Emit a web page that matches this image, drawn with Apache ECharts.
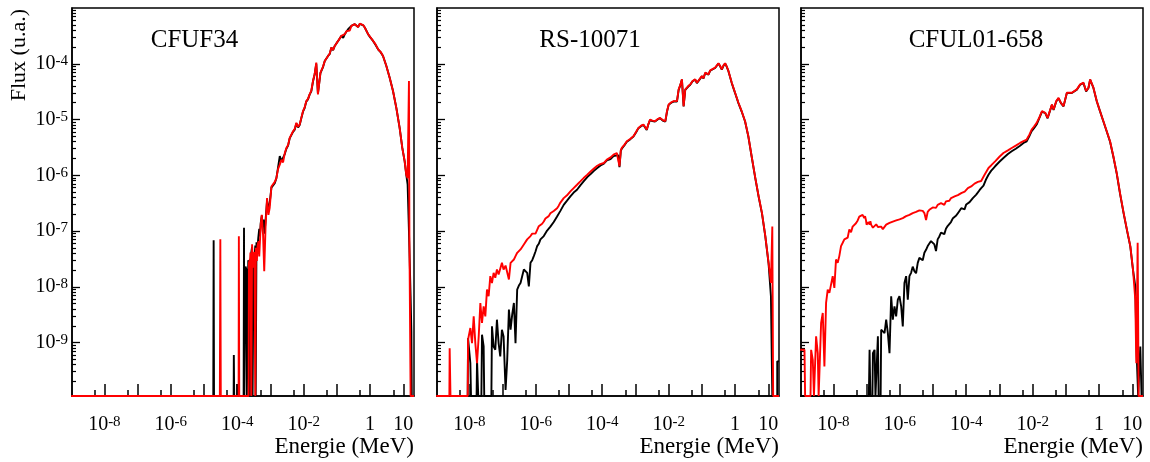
<!DOCTYPE html>
<html><head><meta charset="utf-8">
<script src="https://cdn.jsdelivr.net/npm/echarts@6/dist/echarts.min.js"></script>
<style>html,body{margin:0;padding:0;background:#fff}#c{width:1150px;height:462px}</style>
</head><body><div id="c"></div>
<script>
// ---------- data (energy in MeV, flux in u.a.; 0 = empty bin) ----------
const panelTitles = ['CFUF34', 'RS-10071', 'CFUL01-658'];
const xTitle = 'Energie (MeV)';
const yTitle = 'Flux (u.a.)';
const xMajorTicks = [1e-8, 1e-7, 1e-6, 1e-5, 1e-4, 1e-3, 1e-2, 1e-1, 1, 10];
const xMinorTicks = [5e-9, 5e-8, 5e-7, 5e-6, 5e-5, 5e-4, 5e-3, 5e-2, 5e-1, 5];
const xLabelValues = [1e-8, 1e-6, 1e-4, 1e-2, 1, 10];
const yMajorTicks = [1e-9, 1e-8, 1e-7, 1e-6, 1e-5, 1e-4];
const yLabelValues = [1e-9, 1e-8, 1e-7, 1e-6, 1e-5, 1e-4];

const cfuf34Black = [[1e-9,0],[1.9e-5,0],[1.95e-5,6.8e-8],[2.0e-5,0],[7.8e-5,0],[7.9e-5,6e-10],[8.1e-5,0],
 [1.0e-4,0],[1.01e-4,1.8e-10],[1.03e-4,0],[1.56e-4,0],[1.6e-4,1.15e-7],[1.63e-4,0],
 [1.75e-4,0],[1.78e-4,2.3e-8],[1.9e-4,2.0e-8],[1.95e-4,0],[2.1e-4,0],[2.15e-4,3.0e-8],[2.3e-4,2.5e-8],[2.4e-4,0],
 [2.55e-4,0],[2.6e-4,3.8e-8],[2.8e-4,5.2e-8],[2.9e-4,0],[3.05e-4,0],[3.1e-4,4.0e-8],[3.3e-4,3.2e-8],[3.5e-4,5.5e-8],[3.6e-4,0],
 [3.75e-4,0],[3.8e-4,6.3e-8],[4.0e-4,4.5e-8],[4.3e-4,7.5e-8],[4.6e-4,1.1e-7],[4.8e-4,8e-8],[5.1e-4,1.4e-7],[5.5e-4,1.9e-7],
 [5.8e-4,1.3e-7],[6.2e-4,1.6e-7],[6.6e-4,9e-8],[7.1e-4,1.5e-7],[7.9e-4,3.5e-7],[8.7e-4,2.4e-7],[9.5e-4,3.2e-7],[1.07e-3,6.0e-7],
 [1.2e-3,5.6e-7],[1.35e-3,7.2e-7],[1.51e-3,8.9e-7],[1.7e-3,1.4e-6],[1.91e-3,2.2e-6],[2.15e-3,1.8e-6],[2.4e-3,1.7e-6],
 [2.7e-3,2.4e-6],[3.02e-3,3.0e-6],[3.4e-3,3.4e-6],[3.8e-3,4.6e-6],[4.3e-3,4.9e-6],[4.79e-3,6.0e-6],[5.4e-3,6.6e-6],
 [6.03e-3,8.5e-6],[6.8e-3,7.2e-6],[7.59e-3,8.0e-6],[8.5e-3,1.05e-5],[9.55e-3,1.38e-5],[1.07e-2,1.6e-5],[1.2e-2,2.1e-5],
 [1.35e-2,2.3e-5],[1.51e-2,2.8e-5],[1.7e-2,3.2e-5],[1.91e-2,4.8e-5],[2.15e-2,6.5e-5],[2.4e-2,1.0e-4],[2.69e-2,2.9e-5],
 [3.2e-2,6.8e-5],[3.8e-2,8.6e-5],[4.32e-2,1.12e-4],[4.8e-2,1.05e-4],[5.43e-2,1.38e-4],[6.1e-2,1.5e-4],[6.84e-2,1.95e-4],
 [7.7e-2,1.75e-4],[8.63e-2,2.09e-4],[9.7e-2,2.2e-4],[0.109,2.57e-4],[0.122,2.4e-4],[0.137,3.16e-4],[0.155,2.9e-4],
 [0.173,3.39e-4],[0.195,3.8e-4],[0.218,4.17e-4],[0.245,3.9e-4],[0.274,4.79e-4],[0.31,4.5e-4],
 [0.346,5.13e-4],[0.39,4.8e-4],[0.436,4.57e-4],[0.49,5.2e-4],[0.55,5.13e-4],[0.62,4.9e-4],[0.692,4.47e-4],[0.871,3.39e-4],
 [1.0,3.0e-4],[1.23,2.57e-4],[1.45,2.2e-4],[1.74,1.82e-4],[2.1,1.6e-4],[2.45,1.38e-4],
 [3.09,9.12e-5],[3.89,5.62e-5],[4.9,3.24e-5],[6.17,1.62e-5],[7.76,7.08e-6],[9.33,3.09e-6],[11.0,1.78e-6],[12.3,1.02e-6],
 [13.5,6.8e-7],[14.8,6.8e-7],[14.8,1.0e-7],[16.0,1.0e-7],[16.6,6.8e-9],[17.5,1.6e-9],[18.0,0],[21,0]];

const cfuf34Red = [[1e-9,0],[3.0e-5,0],[3.1e-5,7.1e-8],[3.2e-5,0],[1.1e-4,0],[1.12e-4,8.1e-8],[1.15e-4,0],
 [2.2e-4,0],[2.25e-4,2.7e-8],[2.45e-4,3.2e-8],[2.5e-4,4.1e-8],[2.65e-4,0],[2.8e-4,5.8e-8],[2.95e-4,2.2e-8],[3.1e-4,3.8e-8],
 [3.3e-4,4.2e-8],[3.5e-4,0],[3.65e-4,5.0e-8],[3.9e-4,2.9e-8],[4.1e-4,5.5e-8],[4.4e-4,6.6e-8],[4.6e-4,3.5e-8],[4.8e-4,3.8e-8],
 [5.1e-4,1.3e-7],[5.5e-4,1.95e-7],[6.0e-4,8.5e-8],[6.5e-4,1.9e-8],[7.1e-4,1.12e-7],[7.9e-4,3.9e-7],[8.7e-4,1.95e-7],
 [9.5e-4,2.6e-7],[1.07e-3,6.3e-7],[1.2e-3,5.9e-7],[1.35e-3,7.6e-7],[1.51e-3,8.9e-7],[1.7e-3,1.3e-6],[1.91e-3,1.55e-6],
 [2.15e-3,1.9e-6],[2.4e-3,1.7e-6],[2.7e-3,2.5e-6],[3.02e-3,3.09e-6],[3.4e-3,3.5e-6],[3.8e-3,4.68e-6],[4.3e-3,5.0e-6],
 [4.79e-3,6.17e-6],[5.4e-3,6.8e-6],[6.03e-3,8.71e-6],[6.8e-3,7.4e-6],[7.59e-3,8.13e-6],[8.5e-3,1.07e-5],
 [9.55e-3,1.41e-5],[1.07e-2,1.65e-5],[1.2e-2,2.14e-5],[1.35e-2,2.35e-5],[1.51e-2,2.82e-5],[1.7e-2,3.3e-5],[1.91e-2,4.9e-5],
 [2.15e-2,6.6e-5],[2.4e-2,1.05e-4],[2.69e-2,2.82e-5],[3.2e-2,6.92e-5],[3.8e-2,8.8e-5],
 [4.32e-2,1.12e-4],[4.8e-2,1.07e-4],[5.43e-2,1.38e-4],[6.1e-2,1.52e-4],[6.84e-2,1.95e-4],[7.7e-2,1.78e-4],[8.63e-2,2.09e-4],
 [9.7e-2,2.25e-4],[0.109,2.57e-4],[0.122,2.45e-4],[0.137,3.16e-4],[0.155,2.95e-4],[0.173,3.39e-4],[0.195,3.85e-4],
 [0.218,4.17e-4],[0.245,3.95e-4],[0.274,4.79e-4],[0.31,4.55e-4],[0.346,5.13e-4],[0.39,4.85e-4],[0.436,4.57e-4],
 [0.49,5.25e-4],[0.55,5.13e-4],[0.62,4.95e-4],[0.692,4.47e-4],[0.871,3.39e-4],[1.0,3.05e-4],
 [1.23,2.57e-4],[1.45,2.25e-4],[1.74,1.82e-4],[2.1,1.62e-4],[2.45,1.38e-4],[3.09,9.12e-5],[3.89,5.62e-5],[4.9,3.24e-5],
 [6.17,1.62e-5],[7.76,7.08e-6],[9.33,3.09e-6],[11.0,1.78e-6],[12.3,1.02e-6],[13.5,8.9e-7],[14.8,8.9e-7],[14.8,4.9e-5],
 [15.3,4.9e-5],[15.3,6.6e-8],[16.6,6.6e-8],[16.6,0],[21,0]];

const rs10071Black = [[1e-9,0],[8.9e-9,0],[9.12e-9,1.2e-9],[1.07e-8,4.27e-10],[1.12e-8,0],[1.65e-8,0],[1.7e-8,4.9e-10],
 [1.85e-8,0],[2.3e-8,0],[2.4e-8,1.38e-9],[2.69e-8,8.51e-10],[2.8e-8,0],[4.6e-8,0],[4.79e-8,1.95e-9],[5.37e-8,8.51e-10],
 [6.03e-8,7.41e-10],[6.76e-8,2.57e-9],[7.59e-8,9.77e-10],[8.51e-8,5.62e-10],[9.55e-8,1.7e-9],[1.07e-7,1.29e-9],
 [1.23e-7,1.41e-10],[1.38e-7,4.9e-10],[1.55e-7,3.89e-9],[1.74e-7,1.7e-9],[1.95e-7,3.2e-9],[2.19e-7,5.13e-9],
 [2.45e-7,9.77e-10],[2.75e-7,8.91e-9],[3.09e-7,1.05e-8],[3.47e-7,1.17e-8],[3.89e-7,1.55e-8],[4.37e-7,2.04e-8],
 [4.9e-7,1.9e-8],[5.5e-7,1.78e-8],[6.17e-7,1.02e-8],[6.92e-7,2.69e-8],[7.8e-7,3.0e-8],[8.71e-7,3.55e-8],
 [9.8e-7,4.3e-8],[1.1e-6,5.37e-8],[1.23e-6,5.9e-8],[1.38e-6,7.08e-8],[1.55e-6,7.4e-8],[1.74e-6,8.13e-8],[2.19e-6,1.02e-7],
 [2.75e-6,1.2e-7],[3.47e-6,1.45e-7],[4.37e-6,1.82e-7],[5.5e-6,2.3e-7],[6.92e-6,2.95e-7],[8.71e-6,3.5e-7],[1.1e-5,4.17e-7],
 [1.38e-5,4.9e-7],[1.74e-5,5.5e-7],[2.19e-5,6.6e-7],[2.75e-5,7.76e-7],[3.55e-5,9.3e-7],[4.47e-5,1.05e-6],[5.62e-5,1.2e-6],
 [7.08e-5,1.35e-6],[8.9e-5,1.5e-6],
 [1.12e-4,1.62e-6],[1.38e-4,1.85e-6],[1.78e-4,1.95e-6],[2.19e-4,2.2e-6],[2.51e-4,2.24e-6],[3.02e-4,2.3e-6],[3.31e-4,1.4e-6],[3.63e-4,2.75e-6],
 [3.89e-4,3.0e-6],[4.68e-4,3.45e-6],[5.5e-4,3.98e-6],[6.92e-4,4.4e-6],[8.71e-4,4.95e-6],[1.05e-3,5.9e-6],[1.23e-3,7.0e-6],
 [1.48e-3,7.6e-6],[1.74e-3,8.0e-6],[2.19e-3,6.5e-6],[2.45e-3,8.2e-6],[2.75e-3,9.8e-6],[3.24e-3,9.4e-6],[3.89e-3,9.2e-6],
 [4.68e-3,1.0e-5],[5.5e-3,1.06e-5],[6.61e-3,9.6e-6],[7.94e-3,9.2e-6],[8.91e-3,1.38e-5],[1.0e-2,1.83e-5],[1.2e-2,2.0e-5],
 [1.41e-2,2.1e-5],[1.78e-2,2.1e-5],[2.0e-2,3.4e-5],[2.24e-2,4.1e-5],[2.51e-2,5.2e-5],[2.82e-2,1.72e-5],[3.16e-2,3.4e-5],
 [3.39e-2,3.65e-5],[3.89e-2,3.9e-5],[4.47e-2,4.2e-5],[5.25e-2,4.85e-5],[6.31e-2,5.2e-5],[7.08e-2,4.5e-5],[7.94e-2,4.85e-5],
 [0.1,5.95e-5],[0.112,5.45e-5],[0.126,6.85e-5],[0.158,6.4e-5],[0.178,7.5e-5],[0.2,7.85e-5],[0.251,8.4e-5],[0.282,8.8e-5],
 [0.316,1.01e-4],[0.355,9.0e-5],[0.398,7.85e-5],[0.447,9.2e-5],[0.501,1.01e-4],[0.562,8.8e-5],[0.631,7.35e-5],[0.794,4.5e-5],
 [1.0,2.98e-5],[1.26,1.97e-5],[1.58,1.39e-5],[2.0,9.2e-6],[2.51,4.95e-6],[3.16,2.15e-6],[4.07,8.8e-7],[5.13,4.1e-7],
 [6.46,2.05e-7],[8.13,8.0e-8],[10.2,2.6e-8],[12.0,6.76e-9],[13.2,6.76e-9],[13.2,0],[18.6,0],[18.6,4.6e-10],[21,4.6e-10]];

const rs10071Red = [[1e-9,0],[2.5e-9,0],[2.55e-9,7.9e-10],[2.7e-9,0],[8.9e-9,0],[9.12e-9,1.12e-9],[1.07e-8,1.82e-9],
 [1.2e-8,9.77e-10],[1.35e-8,2.95e-9],[1.51e-8,9.77e-10],[1.7e-8,4.27e-10],[1.91e-8,1.29e-9],[2.14e-8,5.13e-9],
 [2.4e-8,2.24e-9],[2.69e-8,4.47e-9],[3.02e-8,2.95e-9],[3.39e-8,8.91e-9],[3.8e-8,6.76e-9],[4.27e-8,1.55e-8],
 [4.79e-8,1.17e-8],[5.37e-8,1.78e-8],[6.03e-8,1.45e-8],[6.76e-8,2.04e-8],[7.59e-8,1.66e-8],[8.51e-8,1.55e-8],
 [9.55e-8,2.69e-8],[1.07e-7,2.04e-8],[1.23e-7,2.4e-8],[1.38e-7,2.51e-8],[1.55e-7,1.35e-8],[1.74e-7,2.69e-8],
 [1.95e-7,2.82e-8],[2.19e-7,3.09e-8],[2.45e-7,3.55e-8],[2.75e-7,4.07e-8],[3.09e-7,3.89e-8],[3.47e-7,4.68e-8],
 [3.89e-7,5.01e-8],[4.37e-7,5.75e-8],[4.9e-7,6.03e-8],[5.5e-7,7.08e-8],[6.2e-7,6.6e-8],[6.92e-7,8.13e-8],[7.8e-7,9.0e-8],
 [8.71e-7,9.33e-8],[9.8e-7,9.0e-8],[1.1e-6,1.05e-7],[1.23e-6,1.22e-7],[1.38e-6,1.26e-7],[1.55e-6,1.35e-7],[1.74e-6,1.48e-7],
 [1.95e-6,1.68e-7],[2.19e-6,1.74e-7],[2.45e-6,1.85e-7],[2.75e-6,2.09e-7],[3.09e-6,2.2e-7],[3.47e-6,2.29e-7],[3.89e-6,2.4e-7],
 [4.37e-6,2.57e-7],[4.9e-6,2.85e-7],[5.5e-6,3.24e-7],[6.17e-6,3.4e-7],[6.92e-6,3.89e-7],[7.76e-6,4.2e-7],[8.71e-6,4.37e-7],
 [9.8e-6,4.6e-7],[1.1e-5,5.13e-7],[1.23e-5,5.5e-7],[1.38e-5,5.89e-7],[1.55e-5,6.1e-7],
 [1.74e-5,6.76e-7],[2.19e-5,7.76e-7],[2.75e-5,8.91e-7],[3.55e-5,1.02e-6],[4.47e-5,1.17e-6],[5.62e-5,1.32e-6],
 [7.08e-5,1.48e-6],[8.71e-5,1.58e-6],[1.12e-4,1.66e-6],[1.38e-4,1.91e-6],[1.78e-4,2.09e-6],[2.19e-4,2.34e-6],
 [2.75e-4,2.51e-6],[3.02e-4,2.4e-6],[3.31e-4,1.45e-6],[3.63e-4,2.82e-6],[3.89e-4,3.09e-6],[4.68e-4,3.55e-6],
 [5.5e-4,4.07e-6],[6.92e-4,4.47e-6],[8.71e-4,5.01e-6],[1.05e-3,6.03e-6],[1.23e-3,7.08e-6],[1.48e-3,7.76e-6],
 [1.74e-3,8.13e-6],[2.19e-3,6.61e-6],[2.45e-3,8.32e-6],[2.75e-3,1.0e-5],[3.24e-3,9.55e-6],[3.89e-3,9.33e-6],
 [4.68e-3,1.02e-5],[5.5e-3,1.07e-5],[6.61e-3,9.77e-6],[7.94e-3,9.33e-6],[8.91e-3,1.41e-5],[1.0e-2,1.86e-5],
 [1.2e-2,2.04e-5],[1.41e-2,2.14e-5],[1.78e-2,2.14e-5],[2.0e-2,3.47e-5],[2.24e-2,4.17e-5],[2.51e-2,5.25e-5],
 [2.82e-2,1.74e-5],[3.16e-2,3.47e-5],[3.39e-2,3.72e-5],[3.89e-2,3.98e-5],[4.47e-2,4.27e-5],[5.25e-2,4.9e-5],
 [6.31e-2,5.25e-5],[7.08e-2,4.57e-5],[7.94e-2,4.9e-5],[0.1,6.03e-5],[0.112,5.5e-5],[0.126,6.92e-5],[0.158,6.46e-5],
 [0.178,7.59e-5],[0.2,7.94e-5],[0.251,8.51e-5],[0.282,8.91e-5],[0.316,1.02e-4],[0.355,9.12e-5],[0.398,7.94e-5],
 [0.447,9.33e-5],[0.501,1.02e-4],[0.562,8.91e-5],[0.631,7.41e-5],[0.794,4.57e-5],[1.0,3.02e-5],[1.26,2.0e-5],
 [1.58,1.41e-5],[2.0,9.33e-6],[2.51,5.01e-6],[3.16,2.19e-6],[4.07,8.91e-7],[5.13,4.17e-7],[6.46,2.09e-7],[8.13,8.13e-8],
 [10.2,2.69e-8],[12.0,1.17e-8],[13.2,1.17e-8],[13.2,1.2e-7],[14.0,1.2e-7],[14.0,0],[21,0]];

const cful01Black = [[1e-9,0],[1.17e-7,0],[1.23e-7,7.41e-10],[1.3e-7,0],[1.5e-7,0],[1.55e-7,6.46e-10],[1.74e-7,7.41e-10],
 [1.85e-7,0],[2.1e-7,0],[2.19e-7,1.29e-9],[2.3e-7,0],[2.65e-7,0],[2.75e-7,1.7e-9],[3.09e-7,1.82e-9],[3.47e-7,1.48e-9],
 [3.89e-7,2.57e-9],[4.37e-7,1.48e-9],[4.9e-7,6.46e-10],[5.5e-7,6.76e-9],[6.17e-7,2.57e-9],[6.92e-7,4.47e-9],
 [7.76e-7,2.95e-9],[8.71e-7,5.89e-9],[9.77e-7,6.76e-9],[1.1e-6,4.47e-9],[1.23e-6,1.95e-9],[1.38e-6,1.17e-8],
 [1.55e-6,1.55e-8],[1.74e-6,5.89e-9],[1.95e-6,1.55e-8],[2.19e-6,1.78e-8],[2.45e-6,2.3e-8],[2.75e-6,1.91e-8],
 [3.09e-6,1.75e-8],[3.47e-6,2.69e-8],[3.89e-6,3.3e-8],[4.37e-6,3.09e-8],[4.9e-6,3.0e-8],[5.5e-6,4.07e-8],[6.17e-6,4.6e-8],
 [6.92e-6,5.37e-8],[7.76e-6,5.0e-8],[8.71e-6,6.61e-8],[9.8e-6,6.9e-8],[1.1e-5,5.75e-8],[1.23e-5,4.37e-8],
 [1.38e-5,7.08e-8],[1.55e-5,8.0e-8],[1.74e-5,9.33e-8],[1.95e-5,9.8e-8],[2.19e-5,8.8e-8],[2.45e-5,1.1e-7],[2.75e-5,1.23e-7],
 [3.09e-5,1.18e-7],[3.47e-5,1.45e-7],[3.98e-5,1.7e-7],[4.47e-5,1.6e-7],[5.0e-5,1.9e-7],[5.62e-5,2.09e-7],[6.3e-5,2.0e-7],
 [7.08e-5,2.57e-7],[8.0e-5,2.55e-7],[8.9e-5,2.45e-7],[1.0e-4,3.0e-7],[1.12e-4,3.16e-7],[1.26e-4,3.3e-7],[1.41e-4,3.5e-7],
 [1.58e-4,3.9e-7],[1.78e-4,4.17e-7],[2.0e-4,4.5e-7],[2.24e-4,4.8e-7],[2.51e-4,5.4e-7],[2.82e-4,5.89e-7],[3.31e-4,6.5e-7],
 [3.9e-4,8.3e-7],[4.68e-4,1.02e-6],[5.6e-4,1.2e-6],[7.41e-4,1.45e-6],[1.0e-3,1.75e-6],
 [1.32e-3,2.04e-6],[1.8e-3,2.4e-6],[2.34e-3,2.69e-6],[3.1e-3,3.0e-6],[4.17e-3,3.39e-6],[5.3e-3,3.8e-6],[6.61e-3,4.07e-6],
 [7.9e-3,5.0e-6],[9.33e-3,6.17e-6],[1.1e-2,7.0e-6],[1.32e-2,8.13e-6],
 [1.91e-2,1.38e-5],[2.4e-2,1.3e-5],[2.82e-2,1.05e-5],[3.8e-2,1.83e-5],[4.27e-2,1.49e-5],[5.13e-2,2.1e-5],[6.03e-2,2.4e-5],
 [7.08e-2,1.97e-5],[8.51e-2,1.72e-5],[0.107,2.98e-5],[0.151,2.98e-5],[0.214,3.42e-5],[0.269,4.2e-5],[0.339,4.5e-5],
 [0.407,3.2e-5],[0.479,3.68e-5],[0.537,5.2e-5],[0.676,3.68e-5],[0.851,2.12e-5],[1.07,1.4e-5],[1.35,9.2e-6],[1.7,6.1e-6],
 [2.14,4.0e-6],[2.69,2.15e-6],[3.39,1.08e-6],[4.27,4.7e-7],[5.5,2.05e-7],[6.92,1.03e-7],[8.71,5.3e-8],[10.5,2.0e-8],
 [12.3,1.02e-8],[13.5,6.46e-10],[15.0,0],[16.5,0],[17.4,8.51e-10],[19.0,8.51e-10],[19.0,0],[21,0]];

const cful01Red = [[1e-9,7.41e-10],[1.35e-9,7.41e-10],[1.41e-9,0],[2.05e-9,0],[2.14e-9,7.41e-10],[2.4e-9,4.9e-10],
 [2.6e-9,0],[2.95e-9,0],[3.02e-9,1.29e-9],[3.39e-9,6.46e-10],[3.6e-9,0],[4.1e-9,0],[4.27e-9,2.24e-9],[4.79e-9,3.39e-9],
 [5.37e-9,3.72e-10],[6.03e-9,5.13e-9],[6.76e-9,8.91e-9],[7.59e-9,7.76e-9],[8.51e-9,8.32e-9],[9.55e-9,1.55e-8],
 [1.07e-8,9.55e-9],[1.2e-8,3.09e-8],[1.35e-8,2.69e-8],[1.51e-8,3.55e-8],[1.7e-8,5.37e-8],[1.91e-8,6.17e-8],
 [2.14e-8,7.08e-8],[2.4e-8,6.6e-8],[2.69e-8,7.59e-8],[3.02e-8,1.07e-7],[3.4e-8,9.5e-8],[3.8e-8,1.2e-7],[4.3e-8,1.15e-7],
 [4.79e-8,1.38e-7],[5.4e-8,1.55e-7],[6.03e-8,1.82e-7],[6.8e-8,1.7e-7],[7.59e-8,1.95e-7],[8.51e-8,1.7e-7],[9.0e-8,1.85e-7],
 [9.55e-8,1.58e-7],[1.0e-7,1.3e-7],[1.07e-7,1.2e-7],[1.15e-7,1.45e-7],[1.23e-7,1.3e-7],[1.3e-7,1.5e-7],[1.38e-7,1.29e-7],
 [1.55e-7,1.15e-7],[1.74e-7,1.2e-7],[1.95e-7,1.32e-7],[2.19e-7,1.18e-7],[2.45e-7,1.26e-7],[2.75e-7,1.2e-7],
 [3.09e-7,1.08e-7],[3.47e-7,1.12e-7],[3.89e-7,1.3e-7],[4.37e-7,1.25e-7],[4.9e-7,1.4e-7],[5.5e-7,1.3e-7],[6.17e-7,1.48e-7],
 [6.9e-7,1.38e-7],[7.8e-7,1.55e-7],[8.71e-7,1.45e-7],[9.8e-7,1.62e-7],[1.1e-6,1.52e-7],[1.23e-6,1.7e-7],[1.38e-6,1.6e-7],
 [1.55e-6,1.85e-7],[1.74e-6,1.72e-7],[1.95e-6,1.95e-7],[2.19e-6,1.85e-7],[2.45e-6,2.1e-7],[2.75e-6,1.98e-7],
 [3.09e-6,2.2e-7],[3.47e-6,2.05e-7],[3.89e-6,2.35e-7],[4.37e-6,2.24e-7],[4.9e-6,2.3e-7],[5.5e-6,2.1e-7],[6.17e-6,1.58e-7],
 [6.9e-6,2.2e-7],[7.76e-6,2.4e-7],[8.7e-6,2.3e-7],[9.8e-6,2.65e-7],[1.1e-5,2.75e-7],[1.23e-5,2.6e-7],[1.38e-5,2.95e-7],
 [1.55e-5,2.85e-7],[1.74e-5,3.16e-7],[1.95e-5,3.3e-7],[2.19e-5,2.95e-7],[2.45e-5,3.4e-7],[2.75e-5,3.63e-7],
 [3.1e-5,3.5e-7],[3.5e-5,3.9e-7],[3.9e-5,3.8e-7],[4.47e-5,4.17e-7],[5.0e-5,4.0e-7],[5.6e-5,4.4e-7],[6.3e-5,4.3e-7],
 [7.08e-5,4.79e-7],[8.0e-5,4.6e-7],[9.0e-5,5.1e-7],[1.0e-4,5.0e-7],[1.12e-4,5.89e-7],[1.26e-4,5.7e-7],[1.41e-4,6.3e-7],
 [1.58e-4,6.5e-7],[1.78e-4,7.08e-7],[2.0e-4,7.2e-7],[2.24e-4,7.6e-7],[2.51e-4,8.0e-7],[2.82e-4,7.9e-7],[3.16e-4,8.32e-7],
 [3.5e-4,1.0e-6],[4.68e-4,1.35e-6],[5.6e-4,1.5e-6],[7.41e-4,1.78e-6],[1.0e-3,2.15e-6],[1.32e-3,2.51e-6],[1.8e-3,2.8e-6],
 [2.34e-3,3.09e-6],[3.1e-3,3.4e-6],[4.17e-3,3.8e-6],[5.3e-3,4.1e-6],[6.61e-3,4.37e-6],[7.9e-3,5.3e-6],[9.33e-3,6.61e-6],
 [1.1e-2,7.5e-6],[1.32e-2,8.71e-6],[1.6e-2,1.1e-5],[1.91e-2,1.41e-5],
 [2.4e-2,1.32e-5],[2.82e-2,1.07e-5],[3.8e-2,1.86e-5],[4.27e-2,1.51e-5],[5.13e-2,2.14e-5],[6.03e-2,2.45e-5],
 [7.08e-2,2.0e-5],[8.51e-2,1.74e-5],[0.107,3.02e-5],[0.151,3.02e-5],[0.214,3.47e-5],[0.269,4.27e-5],[0.339,4.57e-5],
 [0.407,3.24e-5],[0.479,3.72e-5],[0.537,5.25e-5],[0.676,3.72e-5],[0.851,2.14e-5],[1.07,1.41e-5],[1.35,9.33e-6],
 [1.7,6.17e-6],[2.14,4.07e-6],[2.69,2.19e-6],[3.39,1.1e-6],[4.27,4.79e-7],[5.5,2.09e-7],[6.92,1.05e-7],[8.71,5.37e-8],
 [10.5,2.04e-8],[12.3,5.89e-9],[13.2,4.27e-10],[14.5,4.27e-10],[14.5,6.17e-8],[15.5,6.17e-8],[15.5,0],[21,0]];

// ---------- layout / style ----------
const X_MIN = 1.06e-9, X_MAX = 21, Y_MIN = 1.1e-10, Y_MAX = 1e-3;
const FONT = 'Liberation Serif';
const panelDefs = [
  {black: cfuf34Black, red: cfuf34Red, left: 72, titleX: 194.5, labels: true},
  {black: rs10071Black, red: rs10071Red, left: 437, titleX: 590, labels: false},
  {black: cful01Black, red: cful01Red, left: 801, titleX: 976, labels: false}
];
const W = 342, TOP = 8, H = 388;

const yMinorTicks = [];
for (let k = -10; k <= -4; k++) for (let m = 2; m <= 9; m++) {
  const v = m * Math.pow(10, k);
  if (v > Y_MIN && v < Y_MAX) yMinorTicks.push(v);
}

function expLabel(v) {
  const e = Math.round(Math.log10(v));
  if (e === 0) return '{b|1}';
  if (e === 1) return '{b|10}';
  return '{b|10}{s|' + e + '}';
}
const rich = {
  b: {fontFamily: FONT, fontSize: 20, color: '#000', lineHeight: 20, verticalAlign: 'bottom'},
  s: {fontFamily: FONT, fontSize: 15, color: '#000', lineHeight: 15, verticalAlign: 'top', padding: [0, 0, 9, 0]}
};
const floorZero = arr => arr.map(p => [p[0], p[1] > 0 ? p[1] : Y_MIN]);

const grid = [], xAxis = [], yAxis = [], series = [], graphic = [];
panelDefs.forEach((p, i) => {
  grid.push({left: p.left, top: TOP, width: W, height: H, show: true, borderColor: '#000', borderWidth: 1.5,
    backgroundColor: 'transparent', containLabel: false, outerBoundsMode: 'none'});
  xAxis.push({gridIndex: i, type: 'log', logBase: 10, min: X_MIN, max: X_MAX, position: 'bottom',
    axisLine: {show: true, lineStyle: {color: '#000', width: 1.5}},
    axisTick: {show: true, inside: true, length: 12, lineStyle: {color: '#000', width: 1.5}, customValues: xMajorTicks},
    axisLabel: {show: true, customValues: xLabelValues, formatter: expLabel, rich: rich, margin: 19, color: '#000'},
    splitLine: {show: false}, minorTick: {show: false}});
  xAxis.push({gridIndex: i, type: 'log', logBase: 10, min: X_MIN, max: X_MAX, position: 'bottom',
    axisLine: {show: false},
    axisTick: {show: true, inside: true, length: 6, lineStyle: {color: '#000', width: 1.5}, customValues: xMinorTicks},
    axisLabel: {show: false}, splitLine: {show: false}});
  yAxis.push({gridIndex: i, type: 'log', logBase: 10, min: Y_MIN, max: Y_MAX, position: 'left',
    axisLine: {show: true, lineStyle: {color: '#000', width: 1.5}},
    axisTick: {show: true, inside: true, length: 8, lineStyle: {color: '#000', width: 1.3}, customValues: yMajorTicks},
    axisLabel: {show: p.labels, customValues: yLabelValues, formatter: expLabel, rich: rich, margin: 4, color: '#000'},
    splitLine: {show: false}, minorTick: {show: false}});
  yAxis.push({gridIndex: i, type: 'log', logBase: 10, min: Y_MIN, max: Y_MAX, position: 'left',
    axisLine: {show: false},
    axisTick: {show: true, inside: true, length: 4, lineStyle: {color: '#000', width: 1.2}, customValues: yMinorTicks},
    axisLabel: {show: false}, splitLine: {show: false}});
  [['black', '#000000'], ['red', '#ff0000']].forEach(([k, col]) => {
    series.push({type: 'line', xAxisIndex: 2 * i, yAxisIndex: 2 * i, data: floorZero(p[k]),
      showSymbol: false, symbol: 'none', clip: true, animation: false, silent: true,
      lineStyle: {color: col, width: 1.9}, z: k === 'red' ? 3 : 2});
  });
  graphic.push({type: 'text', x: p.titleX, y: 40, silent: true,
    style: {text: panelTitles[i], font: '25px "' + FONT + '"', fill: '#000',
      textAlign: 'center', textVerticalAlign: 'middle'}});
  graphic.push({type: 'text', x: p.left + W, y: 447, silent: true,
    style: {text: xTitle, font: '23px "' + FONT + '"', fill: '#000',
      textAlign: 'right', textVerticalAlign: 'middle'}});
});
graphic.push({type: 'text', x: 19.5, y: 9, rotation: Math.PI / 2, silent: true,
  style: {text: yTitle, font: '22px "' + FONT + '"', fill: '#000', textAlign: 'right', textVerticalAlign: 'middle'}});

const chart = echarts.init(document.getElementById('c'), null, {renderer: 'canvas'});
chart.setOption({animation: false, backgroundColor: '#fff', grid, xAxis, yAxis, series, graphic});
</script></body></html>
